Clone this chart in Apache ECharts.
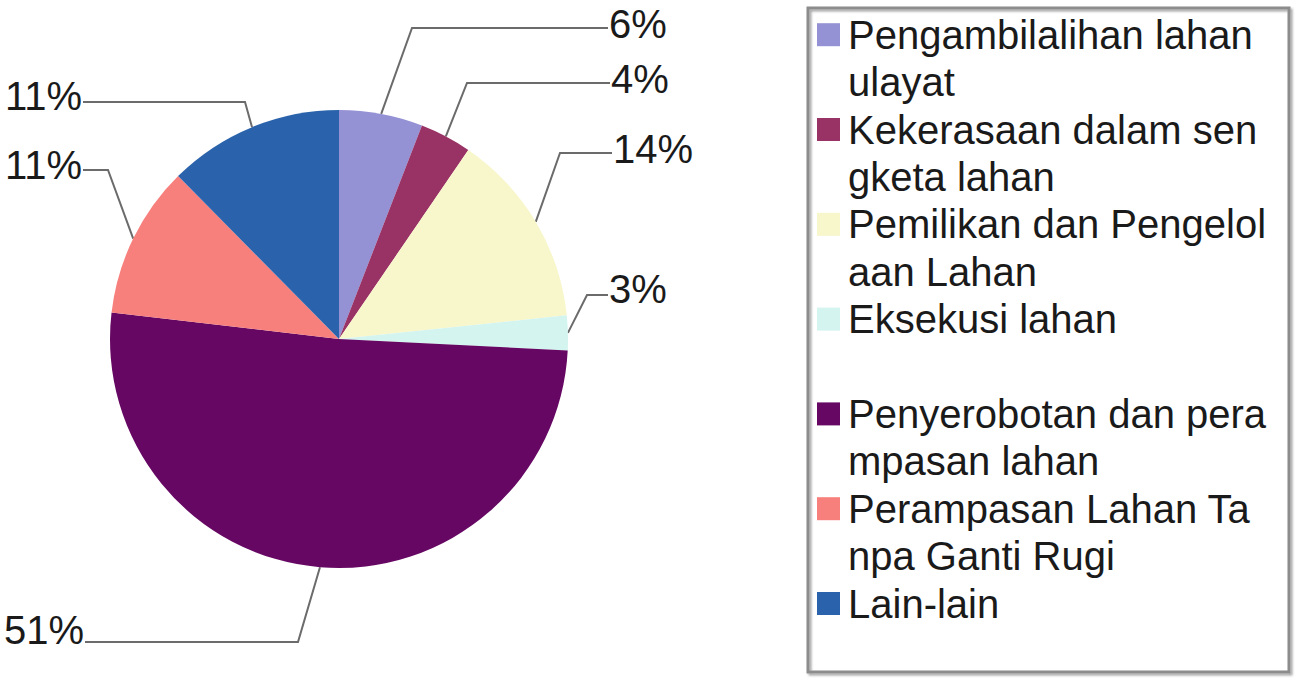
<!DOCTYPE html>
<html>
<head>
<meta charset="utf-8">
<title>Konflik lahan</title>
<script src="https://cdn.jsdelivr.net/npm/echarts@6/dist/echarts.min.js"></script>
<style>
html,body{margin:0;padding:0;background:#fff;}
#main{width:1299px;height:681px;}
</style>
</head>
<body>
<div id="main"></div>
<script>
var categories = ['Pengambilalihan lahan ulayat', 'Kekerasaan dalam sengketa lahan', 'Pemilikan dan Pengelolaan Lahan',
    'Eksekusi lahan', 'Penyerobotan dan perampasan lahan', 'Perampasan Lahan Tanpa Ganti Rugi', 'Lain-lain'];
// legend text as it is wrapped in the picture
var legendText = ['Pengambilalihan lahan\nulayat', 'Kekerasaan dalam sen\ngketa lahan', 'Pemilikan dan Pengelol\naan Lahan',
    'Eksekusi lahan\n', 'Penyerobotan dan pera\nmpasan lahan', 'Perampasan Lahan Ta\nnpa Ganti Rugi', 'Lain-lain'];
var shares = [5.9, 3.65, 13.8, 2.45, 51.05, 10.75, 12.4];
var pctLabels = ['6%', '4%', '14%', '3%', '51%', '11%', '11%'];

var colors = ['#9491d4', '#993365', '#f8f6cb', '#d4f4ef', '#660863', '#f77f7c', '#2a63ab'];
var font = '"Liberation Sans", Arial, sans-serif';
var lh = 47.4;

// leader lines: [bendX, lineY, endX, textY]
var labelSpots = [
    [412, 28, 608, 24],
    [467, 83, 610, 79],
    [560, 153, 612, 149],
    [587, 295, 608, 289],
    [298, 642, 85, 630],
    [108, 170, 83, 165],
    [245, 102, 83, 96]
];

var rich = {
    t: {fontSize: 40, lineHeight: lh, height: lh, color: '#1a1a1a', fontFamily: font},
    g: {width: 8, height: lh, lineHeight: lh},
    i: {width: 31, height: lh, lineHeight: lh}
};
colors.forEach(function(c, i){
    rich['m' + i] = {width: 23, height: 23, backgroundColor: c};
});

var myChart = echarts.init(document.getElementById('main'), null, {renderer: 'svg'});

var option = {
    animation: false,
    color: colors,
    graphic: [{
        type: 'rect',
        shape: {x: 808, y: 8, width: 481, height: 664},
        style: {fill: 'none', stroke: '#8c8c8c', lineWidth: 3,
            shadowBlur: 2, shadowOffsetX: 2, shadowOffsetY: 2, shadowColor: 'rgba(0,0,0,0.35)'},
        z: 0
    }],
    legend: {
        orient: 'vertical',
        left: 812,
        top: 11,
        padding: 0,
        itemGap: 0,
        itemWidth: 0,
        itemHeight: 0,
        icon: 'none',
        selectedMode: false,
        data: categories,
        formatter: function(name){
            var i = categories.indexOf(name);
            var lines = legendText[i].split('\n');
            var s = '{m' + i + '|}{g|}{t|' + lines[0] + '}';
            for (var k = 1; k < lines.length; k++) {
                s += '\n{i|}{t|' + (lines[k] || ' ') + '}';
            }
            return s;
        },
        textStyle: {fontFamily: font, fontSize: 40, lineHeight: lh, color: '#1a1a1a', rich: rich}
    },
    series: [{
        type: 'pie',
        center: [339, 339],
        radius: 229,
        startAngle: 90,
        clockwise: true,
        avoidLabelOverlap: false,
        minShowLabelAngle: 0,
        silent: true,
        data: categories.map(function(n, i){
            return {name: n, value: shares[i]};
        }),
        itemStyle: {borderWidth: 0},
        label: {
            show: true,
            position: 'outside',
            formatter: function(p){ return pctLabels[p.dataIndex]; },
            fontSize: 40,
            fontFamily: font,
            color: '#1a1a1a'
        },
        labelLine: {show: true, lineStyle: {color: '#6b6b6b', width: 2}},
        labelLayout: function(params){
            var s = labelSpots[params.dataIndex];
            var p = params.labelLinePoints;
            var right = s[2] > s[0];
            return {
                x: s[2] + (right ? 1 : -1),
                y: s[3],
                align: right ? 'left' : 'right',
                verticalAlign: 'middle',
                labelLinePoints: [p[0], [s[0], s[1]], [s[2], s[1]]]
            };
        }
    }]
};

myChart.setOption(option);
</script>
</body>
</html>
